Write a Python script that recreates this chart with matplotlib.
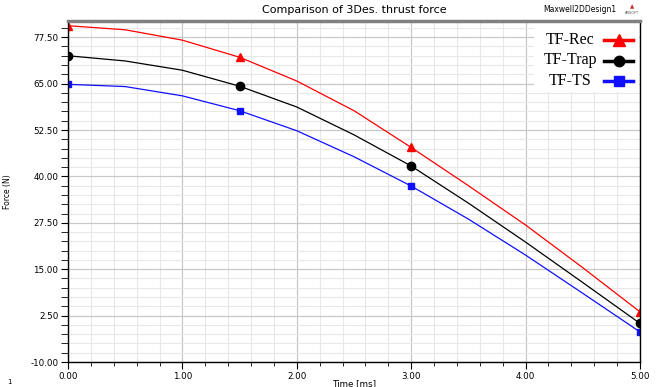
import matplotlib
matplotlib.use("Agg")
import matplotlib.pyplot as plt
from matplotlib.lines import Line2D
from matplotlib.patches import Rectangle
from matplotlib.ticker import MultipleLocator
import numpy as np

# Data
time_ms = [0.0, 0.5, 1.0, 1.5, 2.0, 2.5, 3.0, 3.5, 4.0, 4.5, 5.0]
tf_rec = [80.6, 79.5, 76.7, 72.1, 65.7, 57.7, 47.8, 37.5, 26.9, 15.4, 3.5]
tf_trap = [72.5, 71.1, 68.6, 64.3, 58.7, 51.2, 42.8, 32.8, 22.3, 11.4, 0.4]
tf_ts = [64.8, 64.2, 61.7, 57.7, 52.3, 45.3, 37.4, 28.5, 18.8, 8.5, -1.9]
marker_times = [0.0, 1.5, 3.0, 5.0]
series_names = ["TF-Rec", "TF-Trap", "TF-TS"]
x_ticks = [0.0, 1.0, 2.0, 3.0, 4.0, 5.0]
y_ticks = [-10.0, 2.5, 15.0, 27.5, 40.0, 52.5, 65.0, 77.5]

colors = ["#ff0000", "#000000", "#1010ff"]
markers = ["^", "o", "s"]
msizes = [6, 6, 4.5]

fig = plt.figure(figsize=(6.57, 3.87), dpi=100)
ax = fig.add_axes([68/657, 1-362/387, (640-68)/657, (362-20.5)/387])

series = [tf_rec, tf_trap, tf_ts]
for vals, c, m, ms in zip(series, colors, markers, msizes):
    ax.plot(time_ms, vals, color=c, lw=0.9, zorder=3)
    mv = [vals[time_ms.index(t)] for t in marker_times]
    ax.plot(marker_times, mv, linestyle="none", marker=m, color=c, ms=ms,
            zorder=4)

ax.set_xlim(0, 5)
ax.set_ylim(-10, 82)
ax.set_xticks(x_ticks)
ax.set_xticklabels([f"{v:.2f}" for v in x_ticks])
ax.set_yticks(y_ticks)
ax.set_yticklabels([f"{v:.2f}" for v in y_ticks])
ax.xaxis.set_minor_locator(MultipleLocator(0.2))
ax.yaxis.set_minor_locator(MultipleLocator(2.5))
ax.grid(which="major", color="#c8c8c8", lw=0.9, zorder=0)
ax.grid(which="minor", color="#e8e8e8", lw=0.8, zorder=0)
ax.set_axisbelow(True)
ax.tick_params(which="major", direction="out", length=5, width=0.8,
               labelsize=6.3, pad=2)
ax.tick_params(which="minor", direction="out", length=3, width=0.6)
ax.tick_params(axis="y", which="minor", length=5)
for s in ["left", "bottom", "right"]:
    ax.spines[s].set_color("black")
    ax.spines[s].set_linewidth(1.0)
    ax.spines[s].set_zorder(8)
ax.spines["top"].set_color("#808080")
ax.spines["top"].set_linewidth(2.5)
ax.spines["top"].set_zorder(8)

ax.set_xlabel("Time [ms]", fontsize=6.3, labelpad=-1.5)
ax.set_ylabel("Force (N)", fontsize=5.5, labelpad=13)

fig.text(0.5 * (68 + 640) / 657, 1 - 10 / 387, "Comparison of 3Des. thrust force",
         ha="center", va="center", fontsize=8)
fig.text(580 / 657, 1 - 10 / 387, "Maxwell2DDesign1", ha="center", va="center",
         fontsize=5.5)
fig.text(632 / 657, 1 - 13 / 387, "ANSOFT", ha="center", va="center",
         fontsize=2.5, color="#555555")
fig.text(632 / 657, 1 - 7 / 387, "\u25B2", ha="center", va="center",
         fontsize=4, color="#c03030")
fig.text(9 / 657, 1 - 382 / 387, "1", ha="center", va="center", fontsize=5)

# Legend (manual, centered text, handle on the right)
def ax_coords(px, py):
    return ((px - 68) / (640 - 68), (362 - py) / (362 - 20.5))

x0, y0 = ax_coords(534, 92)
x1, y1 = ax_coords(639, 23)
ax.add_patch(Rectangle((x0, y0), x1 - x0, y1 - y0, transform=ax.transAxes,
                       facecolor="white", edgecolor="none", zorder=5))
leg_y = [39.5, 60.5, 81]
leg_ms = [8.5, 7.5, 6.5]
for name, c, m, ms, py in zip(series_names, colors, markers, leg_ms, leg_y):
    tx, ty = ax_coords(570, py)
    ax.text(tx, ty, name, transform=ax.transAxes, ha="center", va="center",
            fontsize=11.5, family="Liberation Serif", zorder=6)
    lx0, ly = ax_coords(604, py)
    lx1, _ = ax_coords(633, py)
    lxm, _ = ax_coords(618.5, py)
    ax.add_line(Line2D([lx0, lx1], [ly, ly], transform=ax.transAxes, color=c,
                       lw=2.5, zorder=6))
    ax.add_line(Line2D([lxm], [ly], transform=ax.transAxes, color=c, marker=m,
                       ms=ms, linestyle="none", zorder=7))

fig.savefig("out.png", dpi=100, facecolor="white")
